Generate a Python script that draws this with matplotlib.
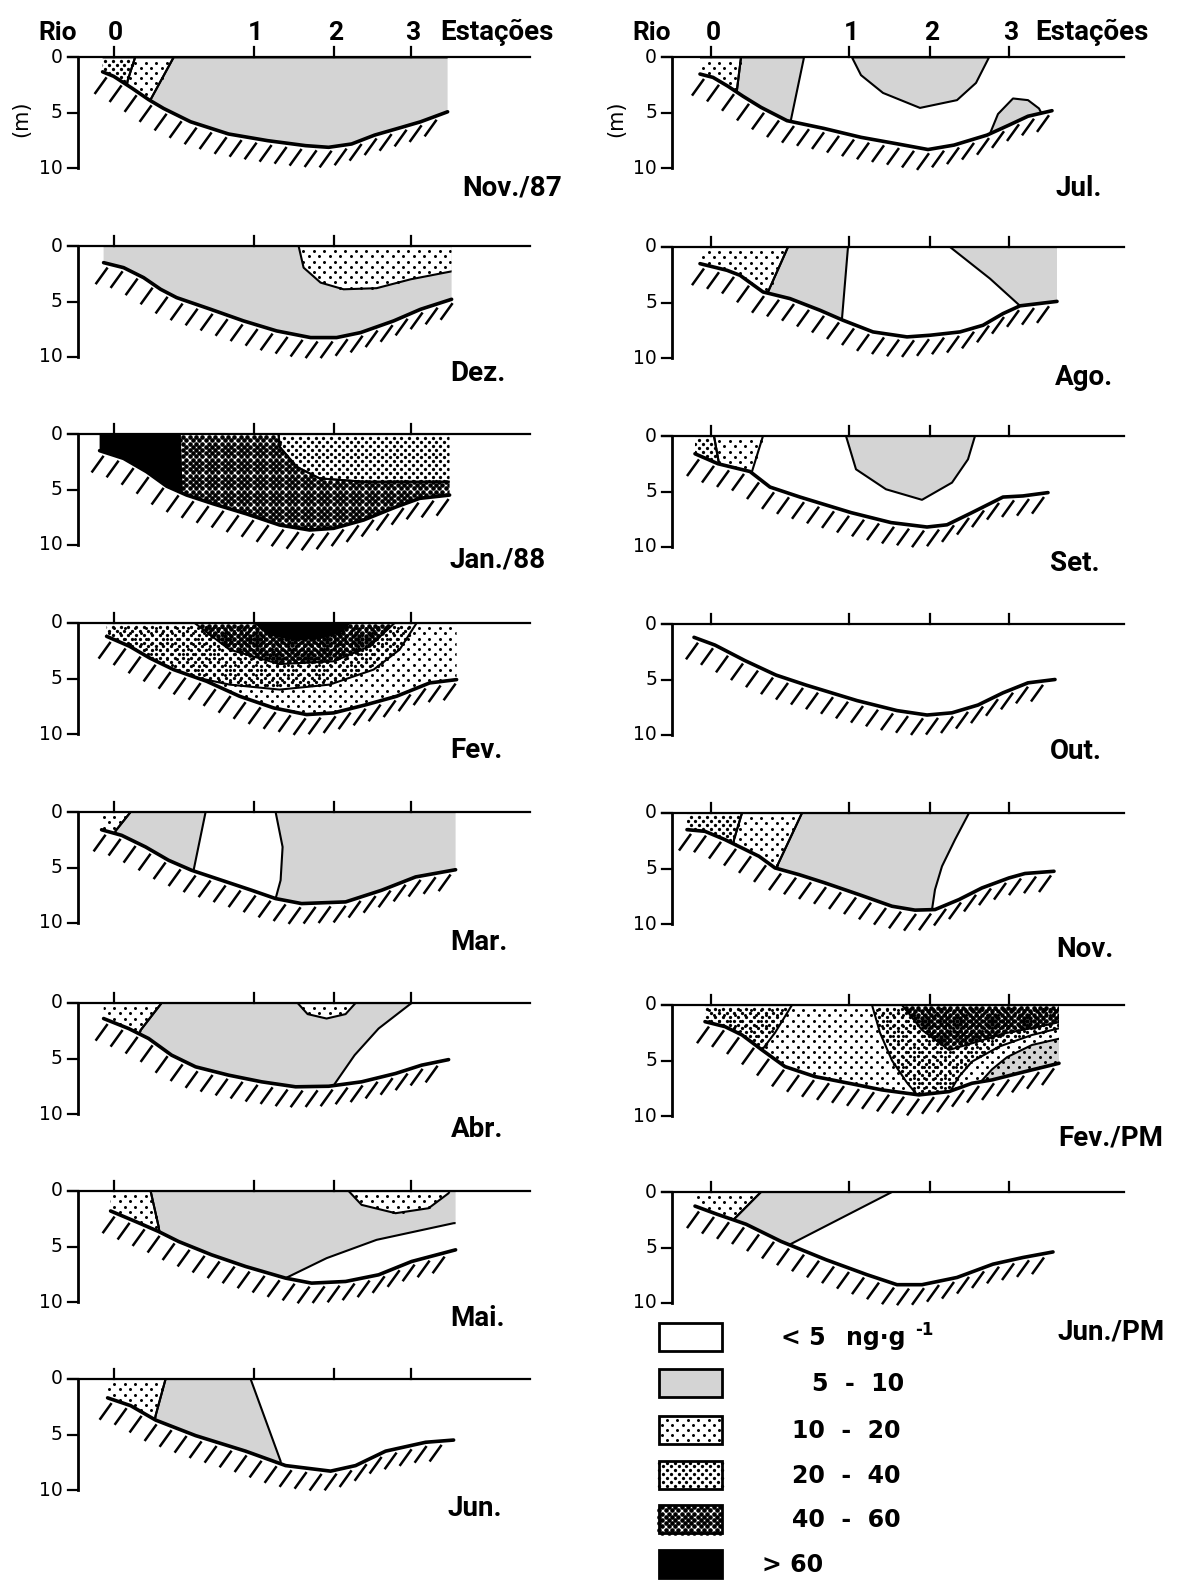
import numpy as np
import matplotlib
matplotlib.use('Agg')
import matplotlib.pyplot as plt
from matplotlib.patches import Polygon, Rectangle
from matplotlib.path import Path
from matplotlib.collections import LineCollection

W, H = 1187, 1580
SX, SY = 10.0, 11.1          # px per horizontal unit / px per metre

HEAD = ['Roboto', 'DejaVu Sans']
PLAIN = ['DejaVu Sans']

# stations along the section (horizontal units from the depth axis)
stations_left = [3.6, 17.6, 25.6, 33.3]
stations_right = [3.9, 17.7, 25.8, 33.7]
station_names = ['0', '1', '2', '3']
depth_ticks = [0, 5, 10]
legend_classes = ['<5', '5-10', '10-20', '20-40', '40-60', '>60']
legend_labels = ['< 5', '5  -  10', '10  -  20', '20  -  40', '40  -  60', '> 60']
legend_text_x = [781, 812, 792, 792, 792, 762]

# bottom profile (x, depth m) and concentration zones (class, outline) per month
nov87_bed = [(2.5, 1.3), (3.6, 1.7), (5.4, 2.75), (7.1, 3.8), (8.6, 4.6), (11.3, 5.8), (15.1, 6.9), (19.0, 7.5),
             (22.8, 7.95), (25.1, 8.1), (27.4, 7.8), (29.7, 7.0), (32.4, 6.3), (34.3, 5.8), (37.0, 4.9)]
nov87_zones = [
    ('20-40', [(-2, 0), (5.75, 0), (5.0, 2.1), (4.5, 5), (-2, 5)]),
    ('10-20', [(5.75, 0), (9.6, 0), (7.3, 3.8), (6.8, 6), (4.5, 5), (5.0, 2.1)]),
    ('5-10', [(9.6, 0), (45, 0), (45, 12), (6.5, 12), (6.8, 6), (7.3, 3.8)]),
]

dez_bed = [(2.6, 1.5), (4.6, 1.95), (6.6, 2.85), (8.3, 3.9), (9.9, 4.65), (13.3, 5.7), (16.6, 6.75), (19.9, 7.65),
           (23.3, 8.25), (25.9, 8.25), (28.3, 7.8), (31.6, 6.75), (34.3, 5.7), (37.4, 4.8)]
dez_zones = [
    ('5-10', [(-2, 0), (45, 0), (45, 12), (-2, 12)]),
    ('10-20', [(22.1, 0), (22.6, 1.95), (24.3, 3.3), (26.6, 3.9), (29.9, 3.8), (33.3, 3.0), (37.6, 2.25),
               (45, 2.0), (45, 0)]),
]

jan88_bed = [(2.2, 1.5), (4.6, 2.2), (6.9, 3.4), (8.9, 4.7), (10.9, 5.5), (13.6, 6.3), (16.9, 7.2), (20.2, 8.2),
             (23.2, 8.65), (25.6, 8.5), (28.6, 7.75), (31.9, 6.55), (34.2, 5.8), (37.2, 5.5)]
jan88_zones = [
    ('>60', [(-2, 0), (10.2, 0), (10.4, 5.3), (10.5, 12), (-2, 12)]),
    ('40-60', [(10.2, 0), (20.1, 0), (20.2, 1.15), (21.9, 2.95), (24.2, 4.0), (28.6, 4.3), (33.6, 4.3),
               (45, 4.3), (45, 12), (10.5, 12), (10.4, 5.3)]),
    ('20-40', [(20.1, 0), (45, 0), (45, 4.3), (33.6, 4.3), (28.6, 4.3), (24.2, 4.0), (21.9, 2.95), (20.2, 1.15)]),
]

fev_bed = [(2.9, 1.2), (5.2, 2.1), (7.2, 3.15), (9.6, 4.2), (12.9, 5.25), (16.2, 6.6), (19.6, 7.65), (22.9, 8.25),
           (25.6, 8.1), (28.9, 7.35), (31.9, 6.6), (35.2, 5.4), (37.9, 5.1)]
fev_zones = [
    ('10-20', [(-2, 0), (45, 0), (45, 12), (-2, 12)]),
    ('20-40', [(-2, 0), (33.9, 0), (32.2, 2.4), (29.6, 4.2), (25.2, 5.55), (20.2, 6.0), (15.2, 5.55),
               (11.0, 4.75), (9.0, 4.4), (5.0, 3.5), (-2, 3.5)]),
    ('40-60', [(11.7, 0), (15.2, 2.4), (20.2, 3.7), (25.6, 3.45), (29.2, 2.1), (31.7, 0)]),
    ('>60', [(17.7, 0), (19.5, 1.1), (21.9, 1.5), (24.5, 1.3), (26.3, 0.8), (27.2, 0)]),
]

mar_bed = [(2.4, 1.6), (4.4, 2.1), (6.8, 3.15), (9.1, 4.35), (11.4, 5.25), (14.4, 6.15), (17.4, 7.05), (19.8, 7.8),
           (22.4, 8.25), (26.8, 8.1), (30.4, 7.05), (33.8, 5.85), (37.8, 5.2)]
mar_zones = [
    ('10-20', [(-2, 0), (5.3, 0), (3.8, 1.7), (3.2, 4), (-2, 4)]),
    ('5-10', [(5.3, 0), (12.8, 0), (11.6, 5.25), (11.5, 12), (3, 12), (3.2, 4), (3.8, 1.7)]),
    ('5-10', [(19.8, 0), (20.5, 3.15), (20.3, 6.15), (19.8, 7.8), (19.7, 12), (45, 12), (45, 0)]),
]

abr_bed = [(2.6, 1.4), (5.1, 2.3), (7.1, 3.2), (9.4, 4.7), (11.8, 5.75), (15.1, 6.5), (18.4, 7.1), (21.8, 7.55),
           (25.1, 7.5), (28.4, 7.1), (31.8, 6.35), (34.4, 5.6), (37.1, 5.1)]
abr_zones = [
    ('10-20', [(-2, 0), (8.4, 0), (6.3, 2.45), (5.5, 5), (-2, 5)]),
    ('5-10', [(8.4, 0), (33.4, 0), (30.1, 2.3), (27.7, 4.7), (25.7, 7.3), (25.3, 12), (5, 12), (5.5, 5),
              (6.3, 2.45)]),
    ('10-20', [(22.0, 0), (23.0, 1.0), (24.9, 1.4), (26.8, 1.0), (27.8, 0)]),
]

mai_bed = [(3.3, 1.8), (5.8, 2.75), (8.1, 3.65), (10.1, 4.55), (13.4, 5.75), (16.8, 6.8), (20.8, 7.85), (23.4, 8.3),
           (26.8, 8.15), (30.1, 7.55), (33.4, 6.35), (37.8, 5.3)]
mai_zones = [
    ('10-20', [(-2, 0), (7.3, 0), (8.1, 3.2), (8.4, 5), (-2, 5)]),
    ('5-10', [(7.3, 0), (45, 0), (45, 2.6), (37.6, 2.9), (29.9, 4.4), (24.9, 6.05), (20.8, 7.85), (20, 12),
              (8.5, 12), (8.4, 5), (8.1, 3.2)]),
    ('10-20', [(27.1, 0), (28.4, 1.25), (31.8, 2.0), (35.1, 1.55), (37.1, 0.2), (37.2, 0)]),
]

jun_bed = [(3.0, 1.7), (5.3, 2.4), (7.8, 3.7), (11.8, 5.1), (16.8, 6.5), (20.8, 7.8), (25.3, 8.3), (27.8, 7.8),
           (30.8, 6.5), (34.8, 5.7), (37.6, 5.5)]
jun_zones = [
    ('10-20', [(-2, 0), (8.8, 0), (7.8, 3.3), (7.5, 5), (-2, 5)]),
    ('5-10', [(8.8, 0), (17.3, 0), (20.3, 7.4), (20.6, 12), (7, 12), (7.5, 5), (7.8, 3.3)]),
]

jul_bed = [(2.8, 1.5), (4.1, 1.8), (5.6, 2.6), (7.1, 3.5), (8.9, 4.5), (11.5, 5.7), (15.2, 6.4), (18.9, 7.2),
           (22.6, 7.8), (25.6, 8.3), (28.2, 7.9), (31.5, 7.0), (33.7, 6.1), (35.6, 5.3), (38.0, 4.8)]
jul_zones = [
    ('10-20', [(-2, 0), (6.9, 0), (6.5, 2.9), (6.2, 5), (-2, 5)]),
    ('5-10', [(6.9, 0), (13.2, 0), (11.9, 5.6), (11.7, 12), (6, 12), (6.2, 5), (6.5, 2.9)]),
    ('5-10', [(18.0, 0), (18.9, 1.6), (21.1, 3.2), (24.8, 4.55), (28.5, 3.85), (30.4, 2.3), (31.7, 0)]),
    ('5-10', [(31.6, 7.3), (32.6, 5.1), (34.1, 3.7), (35.6, 3.85), (36.7, 4.6), (37.5, 6), (33, 8)]),
]

ago_bed = [(2.8, 1.5), (5.5, 2.1), (6.8, 2.55), (9.1, 4.05), (11.8, 4.65), (14.8, 5.7), (17.1, 6.6), (20.1, 7.65),
           (23.5, 8.1), (25.8, 7.95), (28.8, 7.65), (31.1, 7.05), (33.1, 6.0), (34.8, 5.3), (38.5, 4.9)]
ago_zones = [
    ('10-20', [(-2, 0), (11.6, 0), (9.6, 4.05), (9.2, 6), (-2, 6)]),
    ('5-10', [(11.6, 0), (17.6, 0), (17.0, 6.45), (16.9, 12), (9, 12), (9.2, 6), (9.6, 4.05)]),
    ('5-10', [(27.8, 0), (31.8, 2.85), (34.8, 5.3), (35.2, 9), (45, 9), (45, 0)]),
]

set_bed = [(2.3, 1.6), (4.6, 2.5), (7.8, 3.2), (9.8, 4.6), (12.8, 5.5), (17.9, 6.9), (21.9, 7.8), (25.5, 8.2),
           (27.5, 8.0), (30.0, 6.9), (33.1, 5.5), (35.1, 5.4), (37.6, 5.1)]
set_zones = [
    ('20-40', [(-2, 0), (4.2, 0), (4.7, 2.5), (4.8, 5), (-2, 5)]),
    ('10-20', [(4.2, 0), (9.1, 0), (8.0, 3.2), (7.8, 6), (4.8, 5), (4.7, 2.5)]),
    ('5-10', [(17.4, 0), (18.4, 3.0), (21.4, 4.8), (25.0, 5.75), (28.0, 4.2), (29.6, 2.1), (30.3, 0)]),
]

out_bed = [(2.2, 1.2), (4.3, 1.9), (7.3, 3.3), (10.4, 4.6), (13.4, 5.5), (18.5, 6.9), (22.5, 7.8), (25.5, 8.2),
           (28.0, 8.0), (30.6, 7.3), (33.1, 6.2), (35.6, 5.3), (38.3, 5.0)]
out_zones = []

nov88_bed = [(1.5, 1.5), (3.3, 1.65), (5.3, 2.4), (7.0, 3.15), (8.7, 3.9), (10.3, 4.95), (12.7, 5.55), (15.3, 6.3),
             (18.7, 7.35), (22.0, 8.4), (24.3, 8.75), (26.3, 8.7), (28.7, 7.8), (31.0, 6.75), (33.7, 5.85),
             (35.3, 5.45), (38.2, 5.25)]
nov88_zones = [
    ('20-40', [(-2, 0), (7.0, 0), (6.2, 2.4), (5.8, 5), (-2, 5)]),
    ('10-20', [(7.0, 0), (13.0, 0), (10.5, 4.8), (10.2, 7), (5.8, 5), (6.2, 2.4)]),
    ('5-10', [(13.0, 0), (29.7, 0), (28.3, 2.4), (27.0, 4.8), (26.3, 6.9), (26.0, 8.7), (25.9, 12), (10, 12),
              (10.2, 7), (10.5, 4.8)]),
]

fevpm_bed = [(3.3, 1.5), (5.3, 1.95), (7.0, 2.7), (9.0, 4.05), (11.3, 5.55), (14.3, 6.45), (17.7, 7.05), (21.0, 7.65),
             (24.7, 8.1), (27.7, 7.8), (30.0, 7.05), (32.0, 6.75), (35.3, 6.0), (38.7, 5.25)]
fevpm_zones = [
    ('10-20', [(-2, 0), (45, 0), (45, 12), (-2, 12)]),
    ('20-40', [(-2, 0), (12.0, 0), (10.3, 2.5), (9.0, 4.05), (8.5, 6), (-2, 6)]),
    ('20-40', [(20.0, 0), (45, 0), (45, 2.0), (38.7, 2.1), (36.0, 2.7), (32.7, 3.75), (30.0, 5.1), (28.7, 6.45),
               (28.0, 7.5), (27.8, 12), (24.8, 12), (24.7, 8.3), (23.5, 7.0), (22.0, 5.0), (20.8, 2.5)]),
    ('40-60', [(23.0, 0), (25.0, 2.25), (27.7, 4.05), (30.0, 3.45), (33.3, 2.55), (36.7, 1.95), (39.7, 1.35),
               (45, 1.2), (45, 0)]),
    ('5-10', [(30.6, 7.2), (32.0, 5.8), (33.5, 4.7), (36.0, 3.6), (38.9, 3.0), (45, 3), (45, 12), (30.5, 12)]),
]

junpm_bed = [(2.3, 1.27), (4.5, 2.0), (7.4, 2.9), (10.9, 4.45), (15.4, 6.1), (19.5, 7.45), (22.5, 8.35), (25.0, 8.35),
             (28.5, 7.7), (32.1, 6.5), (35.1, 5.9), (38.1, 5.4)]
junpm_zones = [
    ('10-20', [(-2, 0), (8.9, 0), (6.2, 2.45), (5.8, 4), (-2, 4)]),
    ('5-10', [(8.9, 0), (22.0, 0), (11.2, 5.0), (10.0, 8), (5.8, 4), (6.2, 2.45)]),
]

# (label, bed, zones, label position (x, depth)); panel anchors in px: (axis x, surface y)
left_panels = [
    ('Nov./87', nov87_bed, nov87_zones, (38.5, 12.4)),
    ('Dez.', dez_bed, dez_zones, (37.3, 12.2)),
    ('Jan./88', jan88_bed, jan88_zones, (37.2, 12.0)),
    ('Fev.', fev_bed, fev_zones, (37.3, 12.2)),
    ('Mar.', mar_bed, mar_zones, (37.3, 12.4)),
    ('Abr.', abr_bed, abr_zones, (37.3, 12.1)),
    ('Mai.', mai_bed, mai_zones, (37.3, 12.2)),
    ('Jun.', jun_bed, jun_zones, (37.0, 12.3)),
]
right_panels = [
    ('Jul.', jul_bed, jul_zones, (38.3, 12.5)),
    ('Ago.', ago_bed, ago_zones, (38.3, 12.4)),
    ('Set.', set_bed, set_zones, (37.8, 12.2)),
    ('Out.', out_bed, out_zones, (37.8, 12.2)),
    ('Nov.', nov88_bed, nov88_zones, (38.4, 13.0)),
    ('Fev./PM', fevpm_bed, fevpm_zones, (38.6, 12.7)),
    ('Jun./PM', junpm_bed, junpm_zones, (38.6, 13.3)),
]
left_x, left_y0 = 77.6, [57.4, 246, 434, 623, 812, 1003, 1191, 1379]
right_x, right_y0 = 672.0, [57.4, 247, 436, 624, 813, 1005, 1192]

PATTERNS = {
    '5-10': dict(color='#d4d4d4'),
    '10-20': dict(dx=10.5, dy=5.2, d=3.0),
    '20-40': dict(dx=7.8, dy=3.9, d=3.3),
    '40-60': dict(dx=6.4, dy=3.2, d=4.6),
    '>60': dict(color='black'),
}


def paint(ax, verts, cls, clip, sx, sy):
    spec = PATTERNS[cls]
    back = Polygon(verts, closed=True, facecolor=spec.get('color', 'white'), edgecolor='none', zorder=1)
    ax.add_patch(back)
    if clip is not None:
        back.set_clip_path(clip)
    if 'dx' not in spec:
        return
    v = np.array(verts, float)
    dx, dy = spec['dx'] / sx, spec['dy'] / sy
    rows = np.arange(np.floor(v[:, 1].min() / dy), np.ceil(v[:, 1].max() / dy) + 1)
    cols = np.arange(np.floor(v[:, 0].min() / dx) - 1, np.ceil(v[:, 0].max() / dx) + 1) * dx
    pts = np.vstack([np.column_stack([cols + 0.5 * dx * (r % 2), np.full(cols.size, r * dy)]) for r in rows])
    pts = pts[Path(v).contains_points(pts)]
    sc = ax.scatter(pts[:, 0], pts[:, 1], s=(spec['d'] * 0.72) ** 2, color='black', linewidths=0, zorder=2)
    if clip is not None:
        sc.set_clip_path(clip)


def draw_panel(fig, ax_x, y0, label, bed, zones, lab_pos, stations, top):
    left, top_px = ax_x - 5.5 * SX, y0 - 4.0 * SY
    w, h = 56 * SX, 17 * SY
    ax = fig.add_axes([left / W, 1 - (top_px + h) / H, w / W, h / H])
    ax.set_xlim(-5.5, 50.5)
    ax.set_ylim(13, -4)
    ax.set_autoscale_on(False)
    ax.axis('off')

    bx, by = np.array(bed).T
    water = Polygon([(bx[0], 0), (bx[-1], 0)] + bed[::-1], closed=True, fill=False, edgecolor='none')
    ax.add_patch(water)
    for cls, verts in zones:
        paint(ax, verts, cls, water, SX, SY)
    for cls, verts in zones:
        edge = Polygon(verts, closed=True, fill=False, edgecolor='black', lw=1.5, joinstyle='round', zorder=3)
        ax.add_patch(edge)
        edge.set_clip_path(water)

    # bottom and its hatching
    ax.plot(bx, by, color='black', lw=2.6, solid_capstyle='round', solid_joinstyle='round', zorder=4)
    hx = np.arange(bx[0] + 0.4, bx[-1] + 0.2, 1.5)
    hy = np.interp(hx, bx, by) + 0.35
    segs = [[(x, y), (x - 1.2, y + 1.5)] for x, y in zip(hx, hy)]
    ax.add_collection(LineCollection(segs, colors='black', linewidths=1.8, zorder=4))

    # surface, depth axis, ticks
    ax.plot([-1.0, 45.2], [0, 0], color='black', lw=1.6, zorder=5)
    ax.plot([0, 0], [0, 10], color='black', lw=2.0, zorder=5)
    for d in depth_ticks:
        ax.plot([-1.0, 0], [d, d], color='black', lw=1.6, zorder=5)
        ax.text(-1.5, d, str(d), ha='right', va='center', fontsize=13.5, family=PLAIN)
    for s in stations:
        ax.plot([s, s], [0, -0.9], color='black', lw=1.6, zorder=5)

    ax.text(lab_pos[0], lab_pos[1], label, ha='left', va='baseline', fontsize=20, fontweight='bold', family=HEAD)

    if top:
        for s, n in zip(stations, station_names):
            ax.text(s + 0.2, -1.6, n, ha='center', va='baseline', fontsize=19, fontweight='bold', family=HEAD)
        ax.text(-2.0, -1.6, 'Rio', ha='center', va='baseline', fontsize=19, fontweight='bold', family=HEAD)
        ax.text(36.3, -1.6, 'Estações', ha='left', va='baseline', fontsize=20, fontweight='bold', family=HEAD)
        ax.text(-5.6, 5.5, '(m)', ha='center', va='center', rotation=90, fontsize=15, family=PLAIN)


fig = plt.figure(figsize=(W / 100, H / 100), dpi=100)

for i, (label, bed, zones, pos) in enumerate(left_panels):
    draw_panel(fig, left_x, left_y0[i], label, bed, zones, pos, stations_left, i == 0)
for i, (label, bed, zones, pos) in enumerate(right_panels):
    draw_panel(fig, right_x, right_y0[i], label, bed, zones, pos, stations_right, i == 0)

# legend, in pixel coordinates
lg = fig.add_axes([0, 0, 1, 1])
lg.set_xlim(0, W)
lg.set_ylim(H, 0)
lg.set_autoscale_on(False)
lg.axis('off')
box_y = [1337, 1383, 1430, 1475, 1519, 1564]
for cls, lab, yc, tx in zip(legend_classes, legend_labels, box_y, legend_text_x):
    x0, x1, y0, y1 = 659, 722, yc - 14, yc + 14
    rect = [(x0, y0), (x1, y0), (x1, y1), (x0, y1)]
    if cls != '<5':
        paint(lg, rect, cls, None, 1.0, 1.0)
    lg.add_patch(Rectangle((x0, y0), x1 - x0, y1 - y0, fill=False, edgecolor='black', lw=2.0, zorder=3))
    lg.text(tx, yc + 1, lab, ha='left', va='center', fontsize=17, fontweight='bold', family=PLAIN)
lg.text(846, box_y[0] + 1, 'ng·g', ha='left', va='center', fontsize=17, fontweight='bold', family=PLAIN)
lg.text(915, box_y[0] - 7, '-1', ha='left', va='center', fontsize=12, fontweight='bold', family=PLAIN)

fig.savefig('out.png', dpi=100, facecolor='white')
